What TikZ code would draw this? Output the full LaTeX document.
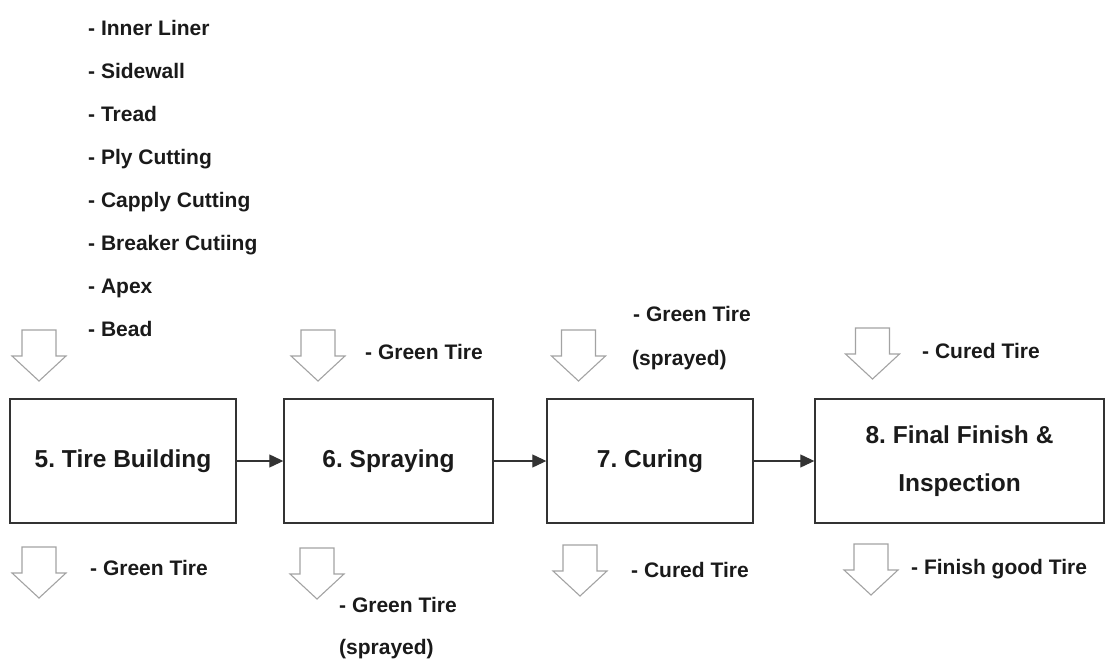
\documentclass[tikz,border=0pt]{standalone}
\usepackage{fontspec}
\setmainfont{Liberation Sans}
\usetikzlibrary{arrows.meta}
\definecolor{boxline}{HTML}{333333}
\definecolor{feedline}{HTML}{A3A3A3}
\definecolor{ink}{HTML}{1A1A1A}
\frenchspacing
% hollow down arrow: #1 = centre x, #2 = top y
\newcommand{\feed}[2]{%
  \draw[feedline, line width=1.1pt, fill=white, line join=miter]
    (#1-17,#2) -- (#1+17,#2) -- (#1+17,#2+26) -- (#1+27,#2+26)
    -- (#1,#2+51) -- (#1-27,#2+26) -- (#1-17,#2+26) -- cycle;}
\tikzset{
  stage/.style={draw=boxline, line width=1.4pt, minimum height=124pt, inner sep=0pt,
    align=center, text=ink, font=\bfseries\fontsize{24.5}{48}\selectfont},
  item/.style={anchor=base west, inner sep=0pt, text=ink,
    font=\bfseries\fontsize{21}{25}\selectfont},
  flow/.style={draw=boxline, line width=1.2pt, -{Triangle[length=14pt,width=13pt]}}
}

\begin{document}
\begin{tikzpicture}[x=1pt, y=-1pt]
  \useasboundingbox (0,0) rectangle (1105,660);

  % materials going into tire building
  \foreach \part [count=\i] in {Inner Liner, Sidewall, Tread, Ply Cutting,
      Capply Cutting, Breaker Cutiing, Apex, Bead}
    \node[item] (part\i) at (88,{35.5+43*(\i-1)}) {- \part};

  % process stages
  \node[stage, minimum width=226pt] (build) at (123,461) {5. Tire Building};
  \node[stage, minimum width=209pt] (spray) at (388.5,461) {6. Spraying};
  \node[stage, minimum width=206pt] (cure) at (650,461) {7. Curing};
  \node[stage, minimum width=289pt] (final) at (959.5,461) {8. Final Finish \&\\Inspection};

  \draw[flow] (build) -- (spray);
  \draw[flow] (spray) -- (cure);
  \draw[flow] (cure) -- (final);

  % inputs
  \feed{39}{330}
  \feed{318}{330}
  \feed{578.5}{330}
  \feed{872.5}{328}
  \node[item] (inspray) at (365,359.5) {- Green Tire};
  \node[item] (incure) at (633,321.5) {- Green Tire};
  \node[item] (incure2) at (632,365.5) {(sprayed)};
  \node[item] (infinal) at (922,358.5) {- Cured Tire};

  % outputs
  \feed{39}{547}
  \feed{317}{548}
  \feed{580}{545}
  \feed{871}{544}
  \node[item] (outbuild) at (90,575.5) {- Green Tire};
  \node[item] (outspray) at (339,612.5) {- Green Tire};
  \node[item] (outspray2) at (339,654.5) {(sprayed)};
  \node[item] (outcure) at (631,577.5) {- Cured Tire};
  \node[item] (outfinal) at (911,574.5) {- Finish good Tire};
\end{tikzpicture}
\end{document}
